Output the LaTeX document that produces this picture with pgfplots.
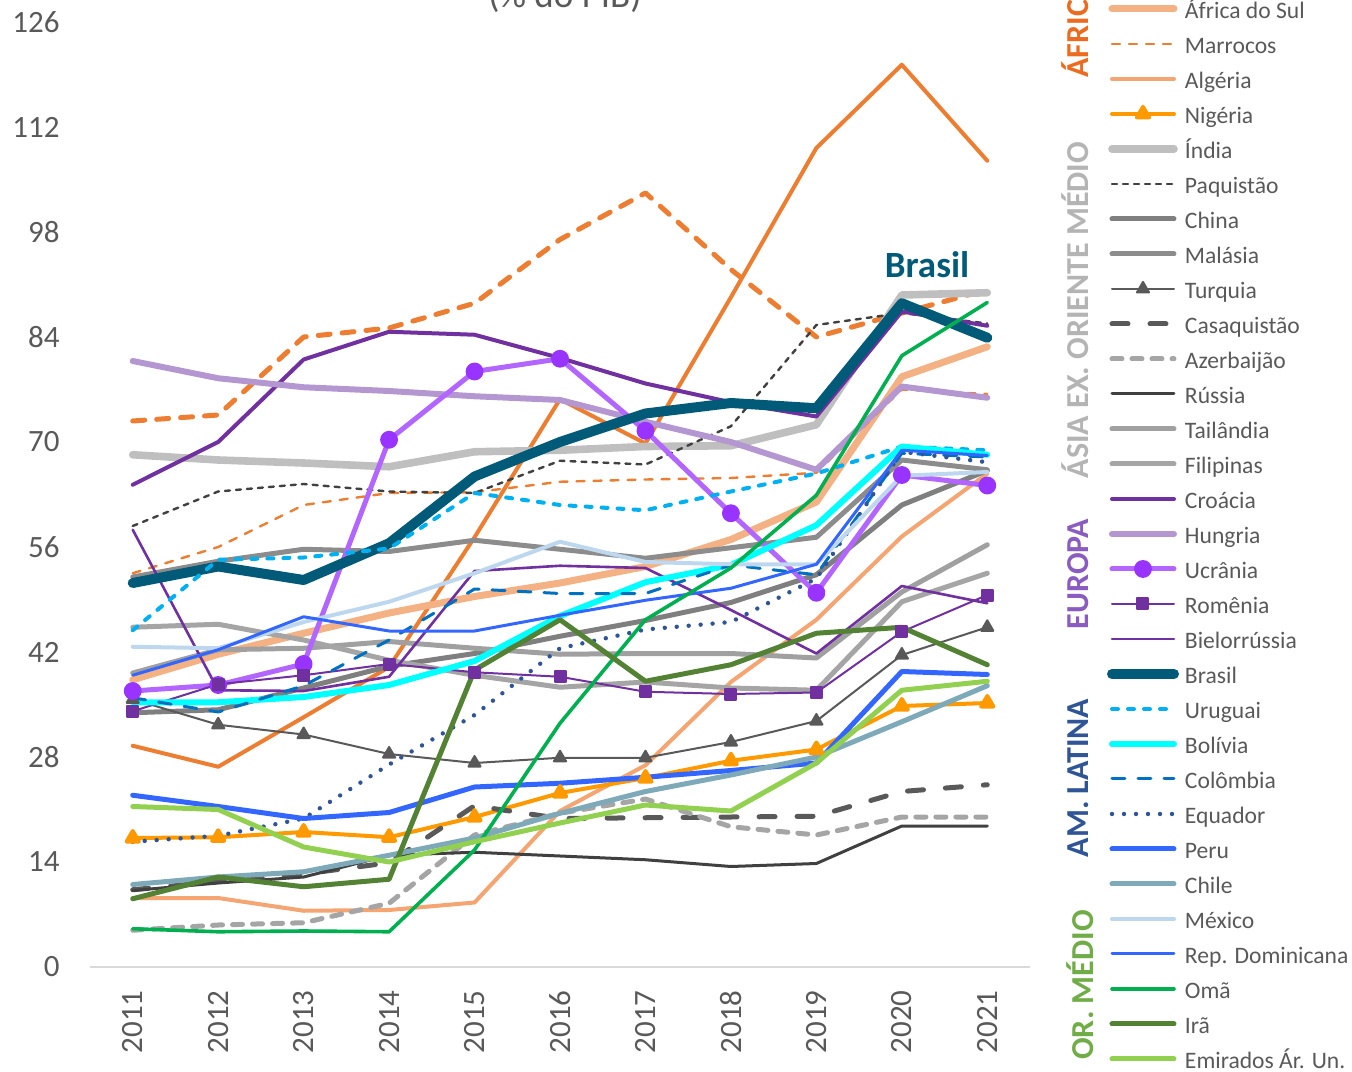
\documentclass[border=0pt]{standalone}
\usepackage{fontspec}
\setmainfont{Carlito}
\usepackage{pgfplots}
\pgfplotsset{compat=1.18}
\usepackage{pgfplotstable}

\definecolor{txt}{HTML}{595959}
\definecolor{axgray}{HTML}{D9D9D9}
\definecolor{corange}{HTML}{ED7D31}
\definecolor{cpeach}{HTML}{F4B183}
\definecolor{calg}{HTML}{F4A572}
\definecolor{cnig}{HTML}{FF9900}
\definecolor{cindia}{HTML}{BFBFBF}
\definecolor{cdark}{HTML}{404040}
\definecolor{cchina}{HTML}{7F7F7F}
\definecolor{cmal}{HTML}{8C8C8C}
\definecolor{cturq}{HTML}{595959}
\definecolor{cazer}{HTML}{A5A5A5}
\definecolor{ctai}{HTML}{A0A0A0}
\definecolor{cpurple}{HTML}{7030A0}
\definecolor{chung}{HTML}{B497D1}
\definecolor{cucrl}{HTML}{B366FF}
\definecolor{cucrm}{HTML}{9933FF}
\definecolor{cbrasil}{HTML}{005A78}
\definecolor{curu}{HTML}{00B0F0}
\definecolor{cbol}{HTML}{00FFFF}
\definecolor{ccol}{HTML}{0070C0}
\definecolor{cequ}{HTML}{2F5597}
\definecolor{cperu}{HTML}{3366FF}
\definecolor{cchile}{HTML}{7DA9B9}
\definecolor{cmex}{HTML}{BDD7EE}
\definecolor{coma}{HTML}{00B050}
\definecolor{cira}{HTML}{548235}
\definecolor{cemi}{HTML}{92D050}
\definecolor{lafr}{HTML}{ED6B1F}
\definecolor{lasia}{HTML}{B4B4B4}
\definecolor{leur}{HTML}{8A5CC2}
\definecolor{lam}{HTML}{2F5597}
\definecolor{lor}{HTML}{70AD47}

% divida publica (% do PIB), 2011-2021
\pgfplotstableread{
year angola egito afsul marrocos argelia nigeria india paquistao china malasia turquia casaq azerb russia tailandia filipinas croacia hungria ucrania romenia bielo brasil uruguai bolivia colombia equador peru chile mexico repdom oma ira emirados
2011 29.5  72.8  38.3 52.5  9.2 17.2 68.3 58.8 33.9 52.0 35.7 10.3  4.9 10.2 39.2 45.3 64.3 80.8 36.8 34.1 58.3 51.2 44.9 35.3 35.9 16.7 22.9 11.0 42.7 38.9  5.1  9.1 21.4
2012 26.7  73.6  41.7 56.0  9.2 17.3 67.6 63.4 34.3 54.1 32.3 11.4  5.6 11.2 42.3 45.7 70.0 78.5 37.6 37.7 36.9 53.4 54.3 35.3 34.0 17.5 21.4 12.0 42.5 42.3  4.7 12.0 21.0
2013 33.3  84.0  44.5 61.6  7.5 18.0 67.2 64.4 37.2 55.7 31.0 12.4  5.9 12.0 42.5 43.6 81.0 77.3 40.4 38.9 36.8 51.6 54.6 36.0 37.5 19.8 19.8 12.7 46.0 46.7  4.8 10.7 16.0
2014 40.0  85.2  47.2 63.2  7.6 17.3 66.7 63.4 40.1 55.4 28.4 13.9  8.5 14.9 43.4 40.9 84.7 76.8 70.3 40.4 38.7 56.5 55.8 37.6 43.6 27.0 20.6 14.9 48.7 44.8  4.7 11.7 14.0
2015 57.3  88.5  49.4 63.3  8.6 20.0 68.7 63.2 41.8 56.9 27.2 21.5 17.6 15.3 42.5 38.9 84.3 76.1 79.4 39.3 52.8 65.4 63.2 40.8 50.4 33.6 24.0 17.2 52.5 44.8 15.6 39.6 16.7
2016 75.7  97.0  51.2 64.7 20.8 23.2 68.9 67.5 44.1 55.7 27.9 19.8 20.5 14.8 41.7 37.3 81.2 75.6 81.1 38.7 53.5 70.0 61.6 46.8 49.8 42.5 24.5 20.5 56.7 46.9 32.5 46.3 19.2
2017 69.8 103.2  53.4 65.0 26.9 25.2 69.4 67.0 46.2 54.5 27.9 19.9 22.4 14.3 41.8 38.0 77.8 72.7 71.5 36.7 53.2 73.8 60.9 51.3 49.8 45.0 25.3 23.4 54.0 48.9 46.3 38.1 21.6
2018 89.3  93.0  57.0 65.2 38.0 27.5 69.5 72.1 48.6 55.9 30.0 20.0 18.7 13.4 41.8 37.2 75.3 70.0 60.5 36.4 47.6 75.2 63.4 53.6 53.6 46.0 26.2 25.6 53.7 50.5 53.2 40.3 20.8
2019 109.2 84.0  62.0 65.9 46.3 29.0 72.3 85.6 52.3 57.3 32.8 20.1 17.6 13.8 41.2 36.9 73.4 66.3 49.9 36.6 41.8 74.5 65.8 58.9 52.3 51.8 27.2 28.0 53.7 53.7 62.9 44.5 27.2
2020 120.3 87.2  78.7 77.0 57.4 34.8 89.6 87.2 61.6 67.6 41.6 23.4 20.0 18.8 50.0 48.7 87.4 77.4 65.6 44.7 50.8 88.5 69.4 69.4 68.5 68.7 39.4 32.7 65.5 68.9 81.5 45.3 36.9
2021 107.5 90.3  82.7 76.4 65.8 35.2 89.9 85.8 66.2 66.3 45.3 24.3 20.0 18.8 56.3 52.5 85.5 75.9 64.2 49.6 48.5 83.9 68.9 68.3 68.0 67.3 39.0 37.5 66.0 68.2 88.6 40.3 38.1
}\debt

\begin{document}
\begin{tikzpicture}[line join=round]
\begin{axis}[
    scale only axis, width=470pt, height=472.5pt,
    xmin=2010.5, xmax=2021.5, ymin=0, ymax=126,
    xtick={2011,...,2021}, ytick={0,14,...,126},
    axis lines=left, axis line style={-},
    y axis line style={draw=none},
    x axis line style={draw=axgray, line width=1pt},
    major tick length=0pt,
    clip=false,
    /pgf/number format/assume math mode=true,
    /pgf/number format/1000 sep={},
    tick label style={font=\fontsize{15.5}{18}\selectfont, text=txt},
    yticklabel style={anchor=east, inner sep=0pt},
    yticklabel shift=15pt,
    xticklabel style={rotate=90, anchor=east, inner sep=0pt},
    xticklabel shift=11.5pt,
    every axis plot/.append style={line cap=round, line join=round},
    legend cell align=left,
    legend style={at={(axis description cs:1.0819,1.0990)}, anchor=north west,
        draw=none, fill=none, inner sep=0pt, outer sep=0pt, row sep=0pt,
        font=\fontsize{11.8}{14}\selectfont, text=txt,
        nodes={inner sep=0pt, text height=10pt, text depth=7.5pt},
        /tikz/every odd column/.append style={column sep=3pt}},
    legend image code/.code={\draw[mark repeat=2,mark phase=2,#1]
        plot coordinates {(0pt,3.5pt) (15.5pt,3.5pt) (31pt,3.5pt)};},
]
\addplot[corange, line width=2.5pt, dash pattern=on 6pt off 6pt] table[x=year,y=egito]{\debt};
\addlegendentry{Egito}
\addplot[corange, line width=2pt] table[x=year,y=angola]{\debt};
\addlegendentry{Angola}
\addplot[cpeach, line width=3.5pt] table[x=year,y=afsul]{\debt};
\addlegendentry{África do Sul}
\addplot[corange, line width=1.2pt, dash pattern=on 4pt off 4.5pt] table[x=year,y=marrocos]{\debt};
\addlegendentry{Marrocos}
\addplot[calg, line width=2pt] table[x=year,y=argelia]{\debt};
\addlegendentry{Algéria}
\addplot[cnig, line width=2pt, mark=triangle*, mark size=3.5pt] table[x=year,y=nigeria]{\debt};
\addlegendentry{Nigéria}
\addplot[cindia, line width=3.8pt] table[x=year,y=india]{\debt};
\addlegendentry{Índia}
\addplot[cdark, line width=1.2pt, dash pattern=on 2.5pt off 3pt] table[x=year,y=paquistao]{\debt};
\addlegendentry{Paquistão}
\addplot[cchina, line width=2.5pt] table[x=year,y=china]{\debt};
\addlegendentry{China}
\addplot[cmal, line width=2.5pt] table[x=year,y=malasia]{\debt};
\addlegendentry{Malásia}
\addplot[cturq, line width=1pt, mark=triangle*, mark size=3.5pt] table[x=year,y=turquia]{\debt};
\addlegendentry{Turquia}
\addplot[cturq, line width=2.5pt, dash pattern=on 8pt off 11pt] table[x=year,y=casaq]{\debt};
\addlegendentry{Casaquistão}
\addplot[cazer, line width=2.5pt, dash pattern=on 5pt off 5pt] table[x=year,y=azerb]{\debt};
\addlegendentry{Azerbaijão}
\addplot[cdark, line width=1.5pt] table[x=year,y=russia]{\debt};
\addlegendentry{Rússia}
\addplot[ctai, line width=2.5pt] table[x=year,y=tailandia]{\debt};
\addlegendentry{Tailândia}
\addplot[cazer, line width=2.5pt] table[x=year,y=filipinas]{\debt};
\addlegendentry{Filipinas}
\addplot[cpurple, line width=2pt] table[x=year,y=croacia]{\debt};
\addlegendentry{Croácia}
\addplot[chung, line width=3pt] table[x=year,y=hungria]{\debt};
\addlegendentry{Hungria}
\addplot[cucrl, line width=2.5pt, mark=*, mark size=3.2pt, mark options={fill=cucrm, draw=cucrm}] table[x=year,y=ucrania]{\debt};
\addlegendentry{Ucrânia}
\addplot[cpurple, line width=1pt, mark=square*, mark size=2.75pt] table[x=year,y=romenia]{\debt};
\addlegendentry{Romênia}
\addplot[cpurple, line width=1.3pt] table[x=year,y=bielo]{\debt};
\addlegendentry{Bielorrússia}
\addplot[cbrasil, line width=5pt] table[x=year,y=brasil]{\debt};
\addlegendentry{Brasil}
\addplot[curu, line width=2pt, dash pattern=on 3pt off 5pt] table[x=year,y=uruguai]{\debt};
\addlegendentry{Uruguai}
\addplot[cbol, line width=3pt] table[x=year,y=bolivia]{\debt};
\addlegendentry{Bolívia}
\addplot[ccol, line width=1.5pt, dash pattern=on 6.5pt off 6.5pt] table[x=year,y=colombia]{\debt};
\addlegendentry{Colômbia}
\addplot[cequ, line width=2.2pt, dash pattern=on 0pt off 6pt] table[x=year,y=equador]{\debt};
\addlegendentry{Equador}
\addplot[cperu, line width=2.5pt] table[x=year,y=peru]{\debt};
\addlegendentry{Peru}
\addplot[cchile, line width=2.5pt] table[x=year,y=chile]{\debt};
\addlegendentry{Chile}
\addplot[cmex, line width=2pt] table[x=year,y=mexico]{\debt};
\addlegendentry{México}
\addplot[cperu, line width=1.5pt] table[x=year,y=repdom]{\debt};
\addlegendentry{Rep. Dominicana}
\addplot[coma, line width=1.8pt] table[x=year,y=oma]{\debt};
\addlegendentry{Omã}
\addplot[cira, line width=2.5pt] table[x=year,y=ira]{\debt};
\addlegendentry{Irã}
\addplot[cemi, line width=2.5pt] table[x=year,y=emirados]{\debt};
\addlegendentry{Emirados Ár. Un.}
\end{axis}

\node[anchor=base, font=\fontsize{18.5}{22}\selectfont, text=txt] at (237.5pt,479.5pt) {(\% do PIB)};
\node[font=\fontsize{18.5}{22}\selectfont\bfseries, text=cbrasil] at (418.5pt,351pt) {Brasil};
\node[rotate=90, anchor=west, inner sep=0pt, font=\fontsize{16}{19}\selectfont\bfseries, text=lafr] at (492.5pt,444.5pt) {ÁFRICA};
\node[rotate=90, inner sep=0pt, font=\fontsize{16}{19}\selectfont\bfseries, text=lasia] at (492.5pt,328.5pt) {ÁSIA EX. ORIENTE MÉDIO};
\node[rotate=90, inner sep=0pt, font=\fontsize{16}{19}\selectfont\bfseries, text=leur] at (494pt,196.5pt) {EUROPA};
\node[rotate=90, inner sep=0pt, font=\fontsize{16}{19}\selectfont\bfseries, text=lam] at (494pt,94.5pt) {AM. LATINA};
\node[rotate=90, inner sep=0pt, font=\fontsize{16}{19}\selectfont\bfseries, text=lor] at (495pt,-9pt) {OR. MÉDIO};

\pgfresetboundingbox
\useasboundingbox (-45pt,-52pt) rectangle (631pt,483.5pt);
\end{tikzpicture}
\end{document}
